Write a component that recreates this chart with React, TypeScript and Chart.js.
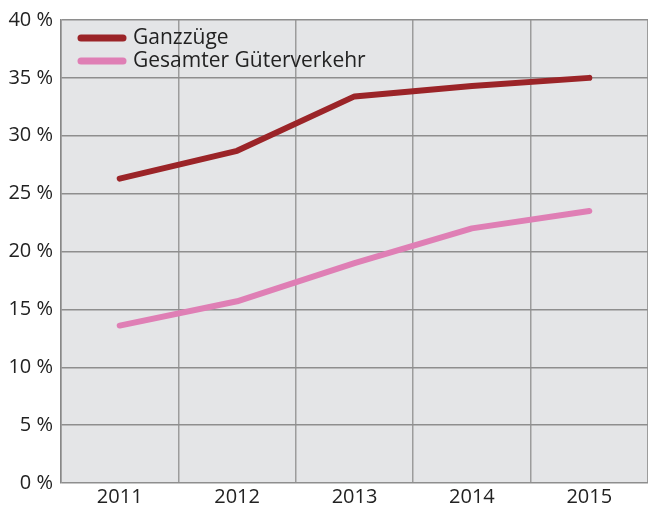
import React, { useEffect, useRef } from "react";
import { Chart, registerables } from "chart.js";

Chart.register(...registerables);

const years = ["2011", "2012", "2013", "2014", "2015"];
const ganzzuege = [26.3, 28.7, 33.4, 34.3, 35.0];
const gesamt = [13.6, 15.7, 19.0, 22.0, 23.5];
const seriesLabels = ["Ganzzüge", "Gesamter Güterverkehr"];

const FONT = "'Open Sans', 'Noto Sans', sans-serif";

const bgPlugin = {
  id: "bgPlugin",
  beforeDraw(chart: any) {
    const { ctx, chartArea } = chart;
    ctx.save();
    ctx.fillStyle = "#e4e5e7";
    ctx.fillRect(chartArea.left, chartArea.top, chartArea.right - chartArea.left, chartArea.bottom - chartArea.top);
    ctx.restore();
  },
  afterDraw(chart: any) {
    const { ctx, chartArea } = chart;
    ctx.save();
    chart.data.datasets.forEach((ds: any, i: number) => {
      const y = chartArea.top + 18 + i * 23;
      const x0 = chartArea.left + 20;
      ctx.strokeStyle = ds.borderColor;
      ctx.lineWidth = 7;
      ctx.lineCap = "round";
      ctx.beginPath();
      ctx.moveTo(x0, y);
      ctx.lineTo(x0 + 42, y);
      ctx.stroke();
      ctx.fillStyle = "#222";
      ctx.font = `21px ${FONT}`;
      ctx.textBaseline = "middle";
      ctx.fillText(ds.label, x0 + 52, y);
    });
    ctx.restore();
  },
};

export default function App() {
  const ref = useRef<HTMLCanvasElement>(null);
  useEffect(() => {
    document.body.style.margin = "0";
    const chart = new Chart(ref.current!, {
      type: "line",
      data: {
        labels: years,
        datasets: [
          {
            label: seriesLabels[0],
            data: ganzzuege,
            borderColor: "#9b2428",
            borderWidth: 6,
            pointRadius: 0,
            borderCapStyle: "round",
            borderJoinStyle: "round",
          },
          {
            label: seriesLabels[1],
            data: gesamt,
            borderColor: "#df7fb5",
            borderWidth: 6,
            pointRadius: 0,
            borderCapStyle: "round",
            borderJoinStyle: "round",
          },
        ],
      },
      options: {
        animation: false,
        responsive: false,
        layout: { padding: { top: 20, right: 0, left: 0, bottom: 0 } },
        plugins: { legend: { display: false }, tooltip: { enabled: false } },
        scales: {
          x: {
            offset: true,
            grid: { offset: true, color: "#9c9c9c", lineWidth: 1.5, drawTicks: false },
            border: { display: false },
            ticks: { color: "#222", font: { family: FONT, size: 20 }, padding: 2, maxRotation: 0 },
            afterFit(s: any) {
              s.height = 26;
            },
          },
          y: {
            min: 0,
            max: 40,
            grid: { color: "#8e8e8e", lineWidth: 1.5, drawTicks: false },
            border: { display: true, color: "#888", width: 1.5 },
            ticks: {
              stepSize: 5,
              color: "#222",
              font: { family: FONT, size: 20 },
              padding: 8,
              callback: (v: any) => `${v} %`,
            },
            afterFit(s: any) {
              s.width = 61;
            },
          },
        },
      },
      plugins: [bgPlugin],
    });
    return () => chart.destroy();
  }, []);
  return <canvas ref={ref} width={648} height={509} style={{ display: "block" }} />;
}
